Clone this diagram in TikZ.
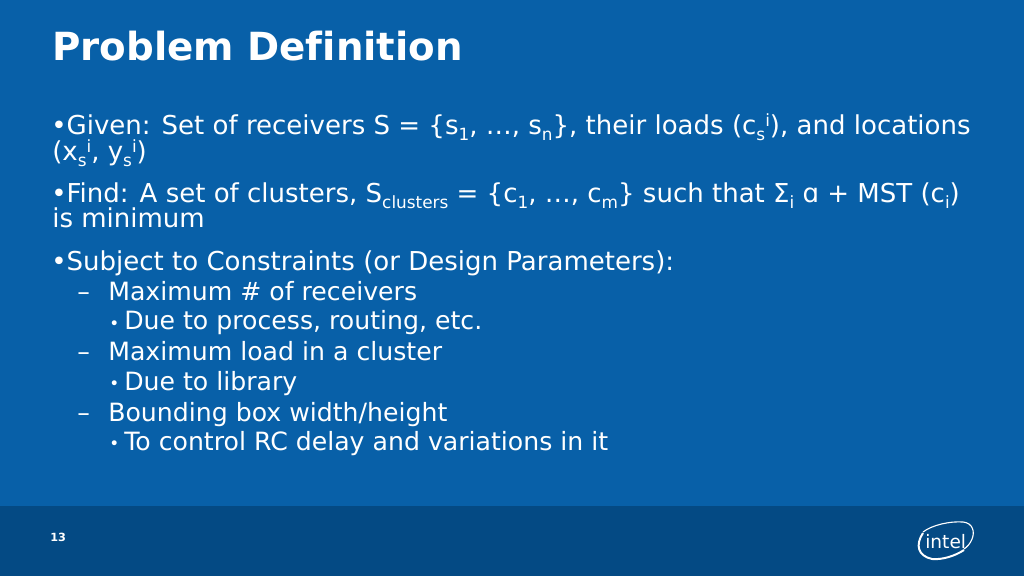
\documentclass[tikz,border=0pt]{standalone}
\usepackage{fontspec}
\setmainfont[Ligatures=NoCommon]{DejaVu Sans}
\usetikzlibrary{calc,positioning}
\definecolor{slideblue}{HTML}{0860A8}
\definecolor{footblue}{HTML}{044A84}
\newcommand{\lowtxt}[1]{\raisebox{-0.4ex}{\fontsize{12}{14}\selectfont #1}}
\newcommand{\hightxt}[1]{\raisebox{0.62ex}{\fontsize{12}{14}\selectfont #1}}
\begin{document}
\begin{tikzpicture}[
    x=0.025cm,y=-0.025cm,
    txt/.style={inner sep=0,anchor=base west,text=white},
    lvlone/.style={txt,font=\fontsize{18.5}{20}\selectfont},
    lvltwo/.style={txt,font=\fontsize{17.9}{20}\selectfont},
]
    \fill [slideblue] (0,0) rectangle (1024,576);
    \fill [footblue] (0,506) rectangle (1024,576);

    \node [txt,font=\fontsize{27.55}{30}\selectfont\bfseries] (title) at (52,61) {Problem Definition};

    \node [lvlone] (given) at (51,135) {•Given: Set of receivers S = \{s\lowtxt{1}, …, s\lowtxt{n}\}, their loads (c\lowtxt{s}\hightxt{i}), and locations};
    \node [lvlone] (givenb) at (52,161) {(x\lowtxt{s}\hightxt{i}, y\lowtxt{s}\hightxt{i})};
    \node [lvlone] (find) at (51,203) {•Find: A set of clusters, S\lowtxt{clusters} = \{c\lowtxt{1}, …, c\lowtxt{m}\} such that Σ\lowtxt{i} ɑ + MST (c\lowtxt{i})};
    \node [lvlone] (findb) at (52,228) {is minimum};
    \node [lvlone] (subject) at (51,271) {•Subject to Constraints (or Design Parameters):};

    \foreach \name/\ypos/\label in {recv/301/{Maximum \# of receivers},load/361/{Maximum load in a cluster},bbox/421/{Bounding box width/height}}{
        \node [lvltwo] (dash\name) at (77,\ypos) {–};
        \node [lvltwo] (\name) at (108,\ypos) {\label};
    }
    \foreach \name/\ypos/\label in {process/330/{Due to process, routing, etc.},library/390/{Due to library},delay/450/{To control RC delay and variations in it}}{
        \node [txt,font=\fontsize{12}{14}\selectfont] (dot\name) at (109,\ypos-1) {•};
        \node [lvltwo] (\name) at (124,\ypos) {\label};
    }

    \node [txt,font=\fontsize{8}{10}\selectfont\bfseries] (page) at (50,541) {13};

    % logo
    \node [txt,font=\fontsize{13.2}{16}\selectfont] (logo) at (925,548) {intel};
    \draw [white,line width=0.8pt] (923,532) .. controls (932,525) and (950,521) .. (963,522) .. controls (973,523) and (975,532) .. (972,539) .. controls (970,544) and (967,547) .. (964,549);
    \draw [white,line width=1.4pt] (923,533) .. controls (915,545) and (918,556) .. (932,559) .. controls (942,560) and (955,556) .. (964,550);
\end{tikzpicture}
\end{document}
